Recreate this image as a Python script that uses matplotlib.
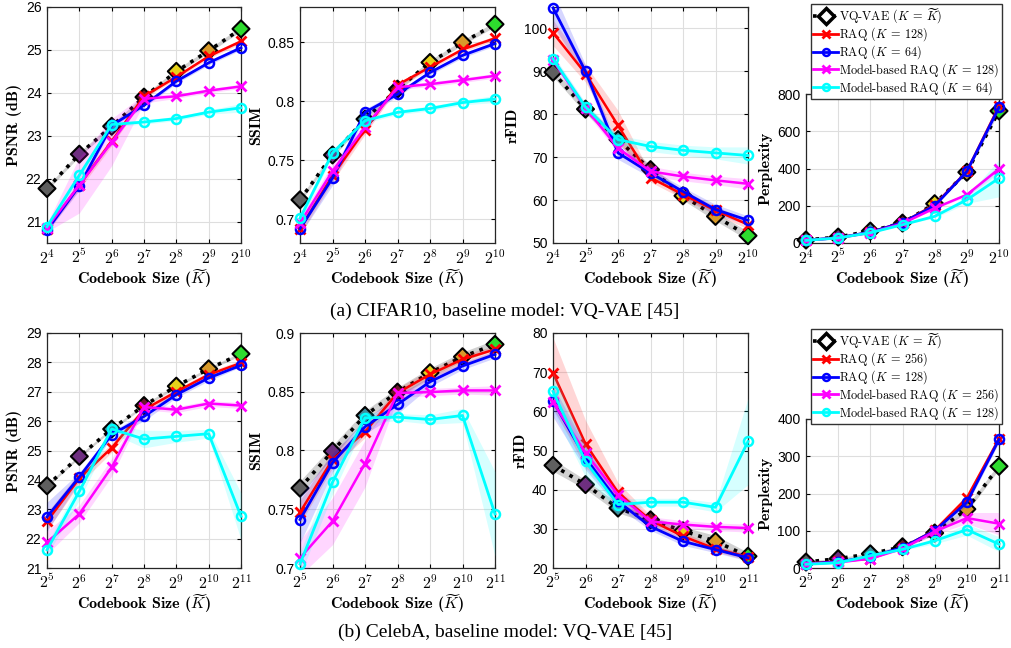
import matplotlib
matplotlib.use("Agg")
import matplotlib.pyplot as plt
from matplotlib.lines import Line2D
from matplotlib.ticker import FuncFormatter

plt.rcParams['mathtext.fontset'] = 'cm'

# x axes: codebook sizes
cifar_k = [16, 32, 64, 128, 256, 512, 1024]
celeba_k = [32, 64, 128, 256, 512, 1024, 2048]

# series order: VQ-VAE, RAQ (big K), RAQ (small K), model-based (big K), model-based (small K)
cifar_psnr = [
    [21.77, 22.57, 23.22, 23.90, 24.50, 24.98, 25.49],
    [20.82, 21.85, 22.87, 23.92, 24.37, 24.85, 25.20],
    [20.80, 21.83, 23.24, 23.71, 24.27, 24.70, 25.05],
    [20.86, 21.85, 22.85, 23.86, 23.92, 24.05, 24.15],
    [20.88, 22.08, 23.26, 23.32, 23.40, 23.55, 23.65],
]
cifar_psnr_sd = [
    [0.05, 0.05, 0.05, 0.05, 0.05, 0.05, 0.05],
    [0.05, 0.10, 0.10, 0.05, 0.05, 0.05, 0.05],
    [0.05, 0.10, 0.05, 0.05, 0.05, 0.05, 0.05],
    [0.10, 0.65, 0.55, 0.10, 0.05, 0.05, 0.05],
    [0.10, 0.10, 0.05, 0.05, 0.05, 0.05, 0.10],
]
cifar_ssim = [
    [0.7166, 0.7546, 0.7850, 0.8104, 0.8330, 0.8499, 0.8654],
    [0.6920, 0.7370, 0.7760, 0.8140, 0.8290, 0.8440, 0.8535],
    [0.6920, 0.7350, 0.7907, 0.8060, 0.8245, 0.8390, 0.8490],
    [0.6970, 0.7410, 0.7780, 0.8120, 0.8146, 0.8180, 0.8217],
    [0.7010, 0.7563, 0.7837, 0.7907, 0.7940, 0.7990, 0.8020],
]
cifar_ssim_sd = [
    [0.002, 0.002, 0.002, 0.002, 0.002, 0.002, 0.002],
    [0.005, 0.005, 0.004, 0.002, 0.002, 0.002, 0.002],
    [0.005, 0.006, 0.003, 0.002, 0.002, 0.002, 0.002],
    [0.005, 0.006, 0.004, 0.002, 0.002, 0.002, 0.002],
    [0.003, 0.003, 0.002, 0.002, 0.002, 0.002, 0.003],
]
cifar_fid = [
    [89.8, 81.2, 74.1, 67.1, 61.0, 56.2, 51.7],
    [99.0, 89.5, 77.4, 65.2, 61.3, 57.6, 54.3],
    [104.8, 90.0, 71.0, 66.3, 62.0, 57.8, 55.3],
    [92.6, 81.5, 72.1, 66.7, 65.5, 64.6, 63.8],
    [92.9, 81.7, 74.1, 72.5, 71.6, 71.0, 70.4],
]
cifar_fid_sd = [
    [1.0, 1.0, 1.0, 1.0, 1.0, 1.0, 1.0],
    [3.0, 2.0, 3.5, 1.0, 1.0, 1.0, 1.0],
    [4.0, 1.5, 1.5, 1.0, 1.0, 1.2, 1.0],
    [1.0, 1.0, 1.0, 1.2, 1.0, 1.0, 1.2],
    [1.0, 1.0, 1.0, 1.2, 1.2, 1.4, 2.0],
]
cifar_perp = [
    [16, 32, 64, 107, 211, 380, 709],
    [15, 28, 58, 110, 205, 385, 735],
    [15, 28, 58, 110, 200, 384, 728],
    [14, 27, 55, 105, 187, 259, 398],
    [14, 27, 55, 98, 143, 232, 348],
]
cifar_perp_sd = [
    [1, 1, 2, 5, 5, 5, 5],
    [1, 1, 2, 3, 5, 8, 10],
    [1, 1, 2, 3, 5, 8, 10],
    [1, 1, 2, 3, 5, 10, 20],
    [1, 1, 2, 3, 8, 20, 100],
]

celeba_psnr = [
    [23.80, 24.80, 25.73, 26.53, 27.19, 27.78, 28.29],
    [22.59, 24.05, 25.09, 26.39, 27.00, 27.58, 27.98],
    [22.74, 24.10, 25.54, 26.16, 26.90, 27.47, 27.90],
    [21.87, 22.84, 24.43, 26.48, 26.39, 26.60, 26.53],
    [21.62, 23.61, 25.73, 25.39, 25.48, 25.57, 22.76],
]
celeba_psnr_sd = [
    [0.05, 0.05, 0.05, 0.05, 0.05, 0.05, 0.05],
    [0.30, 0.20, 0.15, 0.10, 0.10, 0.10, 0.10],
    [0.50, 0.15, 0.10, 0.15, 0.10, 0.10, 0.05],
    [0.40, 0.30, 0.30, 0.10, 0.10, 0.10, 0.10],
    [0.20, 0.30, 0.15, 0.30, 0.20, 0.15, 0.80],
]
celeba_ssim = [
    [0.7680, 0.7994, 0.8298, 0.8497, 0.8662, 0.8798, 0.8903],
    [0.7474, 0.7923, 0.8159, 0.8490, 0.8648, 0.8776, 0.8860],
    [0.7412, 0.7895, 0.8202, 0.8392, 0.8585, 0.8719, 0.8818],
    [0.7085, 0.7398, 0.7889, 0.8490, 0.8497, 0.8511, 0.8511],
    [0.7034, 0.7730, 0.8278, 0.8284, 0.8264, 0.8298, 0.7460],
]
celeba_ssim_sd = [
    [0.006, 0.005, 0.004, 0.004, 0.004, 0.004, 0.004],
    [0.010, 0.007, 0.005, 0.004, 0.004, 0.004, 0.003],
    [0.020, 0.008, 0.006, 0.008, 0.004, 0.003, 0.003],
    [0.015, 0.020, 0.020, 0.004, 0.003, 0.003, 0.004],
    [0.010, 0.010, 0.005, 0.003, 0.004, 0.006, 0.036],
]
celeba_fid = [
    [46.2, 41.3, 35.3, 32.3, 29.5, 26.8, 23.0],
    [69.8, 51.7, 39.3, 32.2, 28.1, 24.9, 22.8],
    [62.6, 48.1, 37.0, 30.6, 26.8, 24.7, 22.6],
    [62.3, 49.4, 38.7, 31.9, 31.1, 30.5, 30.2],
    [65.1, 47.2, 36.2, 36.8, 36.8, 35.5, 52.3],
]
celeba_fid_sd = [
    [1.5, 1.2, 1.2, 1.0, 1.0, 1.5, 1.0],
    [9.0, 6.0, 2.5, 1.2, 1.0, 0.8, 0.8],
    [4.0, 3.0, 1.5, 1.0, 1.0, 0.8, 0.8],
    [2.0, 2.0, 1.5, 1.2, 1.0, 1.0, 1.0],
    [5.0, 4.0, 1.5, 1.0, 1.0, 1.2, 11.0],
]
celeba_perp = [
    [16, 25, 38, 57, 94, 158, 273],
    [12, 18, 25, 55, 101, 188, 347],
    [11, 17, 30, 55, 100, 176, 345],
    [11, 15, 25, 52, 98, 134, 119],
    [10, 14, 33, 50, 73, 103, 64],
]
celeba_perp_sd = [
    [2, 2, 3, 3, 5, 8, 8],
    [1, 2, 2, 3, 5, 10, 8],
    [1, 2, 2, 3, 5, 8, 8],
    [1, 1, 2, 3, 8, 15, 30],
    [1, 1, 2, 3, 8, 15, 20],
]

cifar_labels = [r"VQ-VAE ($K\:=\:\widetilde{K}$)", r"RAQ ($K\:=\:128$)", r"RAQ ($K\:=\:64$)",
                r"Model-based RAQ ($K\:=\:128$)", r"Model-based RAQ ($K\:=\:64$)"]
celeba_labels = [r"VQ-VAE ($K\:=\:\widetilde{K}$)", r"RAQ ($K\:=\:256$)", r"RAQ ($K\:=\:128$)",
                 r"Model-based RAQ ($K\:=\:256$)", r"Model-based RAQ ($K\:=\:128$)"]

diamond_colors = ['#5f5f5f', '#6e2f80', '#3f8f9f', '#6a1a2a', '#e6d21a', '#d89a2a', '#2edb2e']
line_colors = ['k', '#ff0000', '#0000ff', '#ff00ff', '#00ffff']
markers = ['D', 'x', 'o', 'x', 'o']

fig = plt.figure(figsize=(10.11, 6.48), dpi=100)

W, H = 1011.0, 648.0


def make_ax(left, top, right, bottom):
    return fig.add_axes([left / W, 1 - bottom / H, (right - left) / W, (bottom - top) / H])


def draw(ax, ks, means, sds, ylim, yticks, ylabel):
    for i in range(5):
        m = means[i]
        s = sds[i]
        lo = [a - b for a, b in zip(m, s)]
        hi = [a + b for a, b in zip(m, s)]
        c = line_colors[i]
        ax.fill_between(ks, lo, hi, color=c, alpha=0.16 if i else 0.18,
                        linewidth=0, zorder=1 + i)
        if i == 0:
            ax.plot(ks, m, color='k', ls=':', lw=2.6, zorder=2, clip_on=False)
            ax.scatter(ks, m, marker='D', s=75, c=diamond_colors, edgecolors='k',
                       linewidths=1.5, zorder=3, clip_on=False)
        elif markers[i] == 'o':
            ax.plot(ks, m, color=c, lw=2.0, marker='o', ms=6.5, mfc='none',
                    mec=c, mew=1.8, zorder=4 + i, clip_on=False)
        else:
            ax.plot(ks, m, color=c, lw=1.8, marker='x', ms=7, mew=2.0,
                    zorder=4 + i, clip_on=False)
    ax.set_xscale('log', base=2)
    ax.set_xlim(ks[0], ks[-1])
    ax.set_xticks(ks)
    ax.set_xticklabels([r"$\mathsf{2^{%d}}$" % (k.bit_length() - 1) for k in ks])
    ax.minorticks_off()
    ax.set_ylim(*ylim)
    ax.set_yticks(yticks)
    ax.yaxis.set_major_formatter(FuncFormatter(lambda v, p: "%g" % round(v, 4)))
    ax.grid(True, color='#dedede', lw=0.8)
    ax.set_axisbelow(True)
    ax.tick_params(direction='in', top=True, right=True, length=3, width=0.8, pad=3)
    ax.tick_params(axis='x', labelsize=11.5, pad=3.5)
    ax.tick_params(axis='y', labelsize=10, pad=4)
    for lab in ax.get_yticklabels():
        lab.set_fontfamily('Liberation Sans')
    for sp in ax.spines.values():
        sp.set_color('#262626')
        sp.set_linewidth(0.9)
    ax.set_xlabel(r"Codebook Size ($\widetilde{K}$)", fontfamily='cmb10', fontsize=11.5,
                  labelpad=0)
    ax.set_ylabel(ylabel, fontfamily='cmb10', fontsize=11.5, labelpad=3)


def legend_handles():
    hs = [Line2D([], [], color='k', ls=':', lw=2.6, marker='D', ms=8, mfc='white',
                 mec='k', mew=2.5)]
    for i in range(1, 5):
        if markers[i] == 'o':
            hs.append(Line2D([], [], color=line_colors[i], lw=2.0, marker='o', ms=5,
                             mfc='none', mec=line_colors[i], mew=1.8))
        else:
            hs.append(Line2D([], [], color=line_colors[i], lw=2.0, marker='x', ms=6,
                             mew=2.0))
    return hs


def add_legend(labels, top):
    fig.legend(legend_handles(), labels, loc='upper left',
               bbox_to_anchor=(811 / W, 1 - top / H), borderaxespad=0,
               prop={'family': 'cmr10', 'size': 8.8}, fancybox=False, framealpha=1,
               edgecolor='#333333', handlelength=2.0, handletextpad=0.1,
               labelspacing=0.0, borderpad=0.2)


# top row: CIFAR10
lefts = [47, 300, 553, 806]
rights = [241, 495, 748, 999]

ax = make_ax(lefts[0], 7, rights[0], 243)
draw(ax, cifar_k, cifar_psnr, cifar_psnr_sd, (20.5, 26), range(21, 27), "PSNR (dB)")
ax = make_ax(lefts[1], 7, rights[1], 243)
draw(ax, cifar_k, cifar_ssim, cifar_ssim_sd, (0.68, 0.88), [0.7, 0.75, 0.8, 0.85], "SSIM")
ax = make_ax(lefts[2], 7, rights[2], 243)
draw(ax, cifar_k, cifar_fid, cifar_fid_sd, (50, 105), range(50, 101, 10), "rFID")
ax = make_ax(lefts[3], 94, rights[3], 243)
draw(ax, cifar_k, cifar_perp, cifar_perp_sd, (0, 800), range(0, 801, 200), "Perplexity")
add_legend(cifar_labels, 4)

# bottom row: CelebA
ax = make_ax(lefts[0], 333, rights[0], 568)
draw(ax, celeba_k, celeba_psnr, celeba_psnr_sd, (21, 29), range(21, 30), "PSNR (dB)")
ax = make_ax(lefts[1], 333, rights[1], 568)
draw(ax, celeba_k, celeba_ssim, celeba_ssim_sd, (0.7, 0.9),
     [0.7, 0.75, 0.8, 0.85, 0.9], "SSIM")
ax = make_ax(lefts[2], 333, rights[2], 568)
draw(ax, celeba_k, celeba_fid, celeba_fid_sd, (20, 80), range(20, 81, 10), "rFID")
ax = make_ax(lefts[3], 419, rights[3], 568)
draw(ax, celeba_k, celeba_perp, celeba_perp_sd, (0, 400), range(0, 401, 100), "Perplexity")
add_legend(celeba_labels, 329)

fig.text(505 / W, 1 - 311 / H, "(a) CIFAR10, baseline model: VQ-VAE [45]",
         ha='center', va='center', fontfamily='Liberation Serif', fontsize=14)
fig.text(505 / W, 1 - 632 / H, "(b) CelebA, baseline model: VQ-VAE [45]",
         ha='center', va='center', fontfamily='Liberation Serif', fontsize=14)

fig.savefig("out.png", dpi=100)
